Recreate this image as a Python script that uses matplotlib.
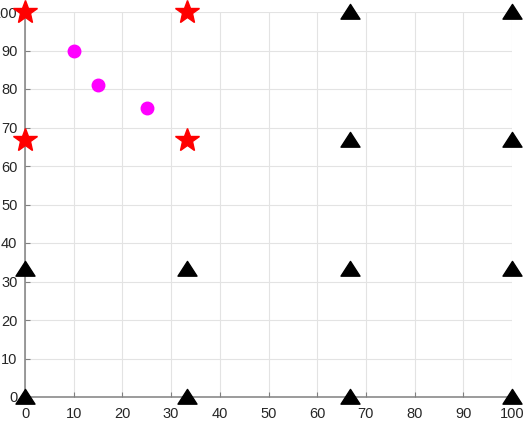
import matplotlib
matplotlib.use("Agg")
import matplotlib.pyplot as plt
from matplotlib.path import Path

star_x = [0, 100/3, 0, 100/3]
star_y = [100, 100, 200/3, 200/3]
circ_x = [10, 15, 25]
circ_y = [90, 81, 75]
tri_x = [200/3, 100, 200/3, 100, 0, 100/3, 200/3, 100, 0, 100/3, 200/3, 100]
tri_y = [100, 100, 200/3, 200/3, 100/3, 100/3, 100/3, 100/3, 0, 0, 0, 0]
ticks = list(range(0, 101, 10))

plt.rcParams['font.family'] = ['Liberation Sans', 'DejaVu Sans']

tri_marker = Path([(-1, -0.7), (1, -0.7), (0, 0.85), (-1, -0.7)],
                  [Path.MOVETO, Path.LINETO, Path.LINETO, Path.CLOSEPOLY])

fig = plt.figure(figsize=(5.25, 4.26), dpi=100)
ax = fig.add_axes([25/525, 1-397/426, 487/525, 385/426])
ax.set_xlim(0, 100)
ax.set_ylim(0, 100)
ax.set_xticks(ticks)
ax.set_yticks(ticks)
ax.grid(True, color='#e3e3e3', linewidth=0.8)
ax.set_axisbelow(True)
for side in ['top', 'right']:
    ax.spines[side].set_visible(False)
for side in ['left', 'bottom']:
    ax.spines[side].set_color('#808080')
    ax.spines[side].set_linewidth(1.1)
ax.tick_params(direction='in', length=3.5, colors='#808080', labelcolor='#262626', labelsize=10.5)
ax.tick_params(axis='x', pad=7)
ax.tick_params(axis='y', pad=5.5)

ax.plot(tri_x, tri_y, linestyle='none', marker=tri_marker, color='black', markersize=13.7, clip_on=False, zorder=3)
ax.plot(star_x, star_y, linestyle='none', marker='*', color='red', markersize=18, clip_on=False, zorder=3)
ax.plot(circ_x, circ_y, linestyle='none', marker='o', color='magenta', markersize=9, clip_on=False, zorder=3)

fig.savefig('out.png', dpi=100)
